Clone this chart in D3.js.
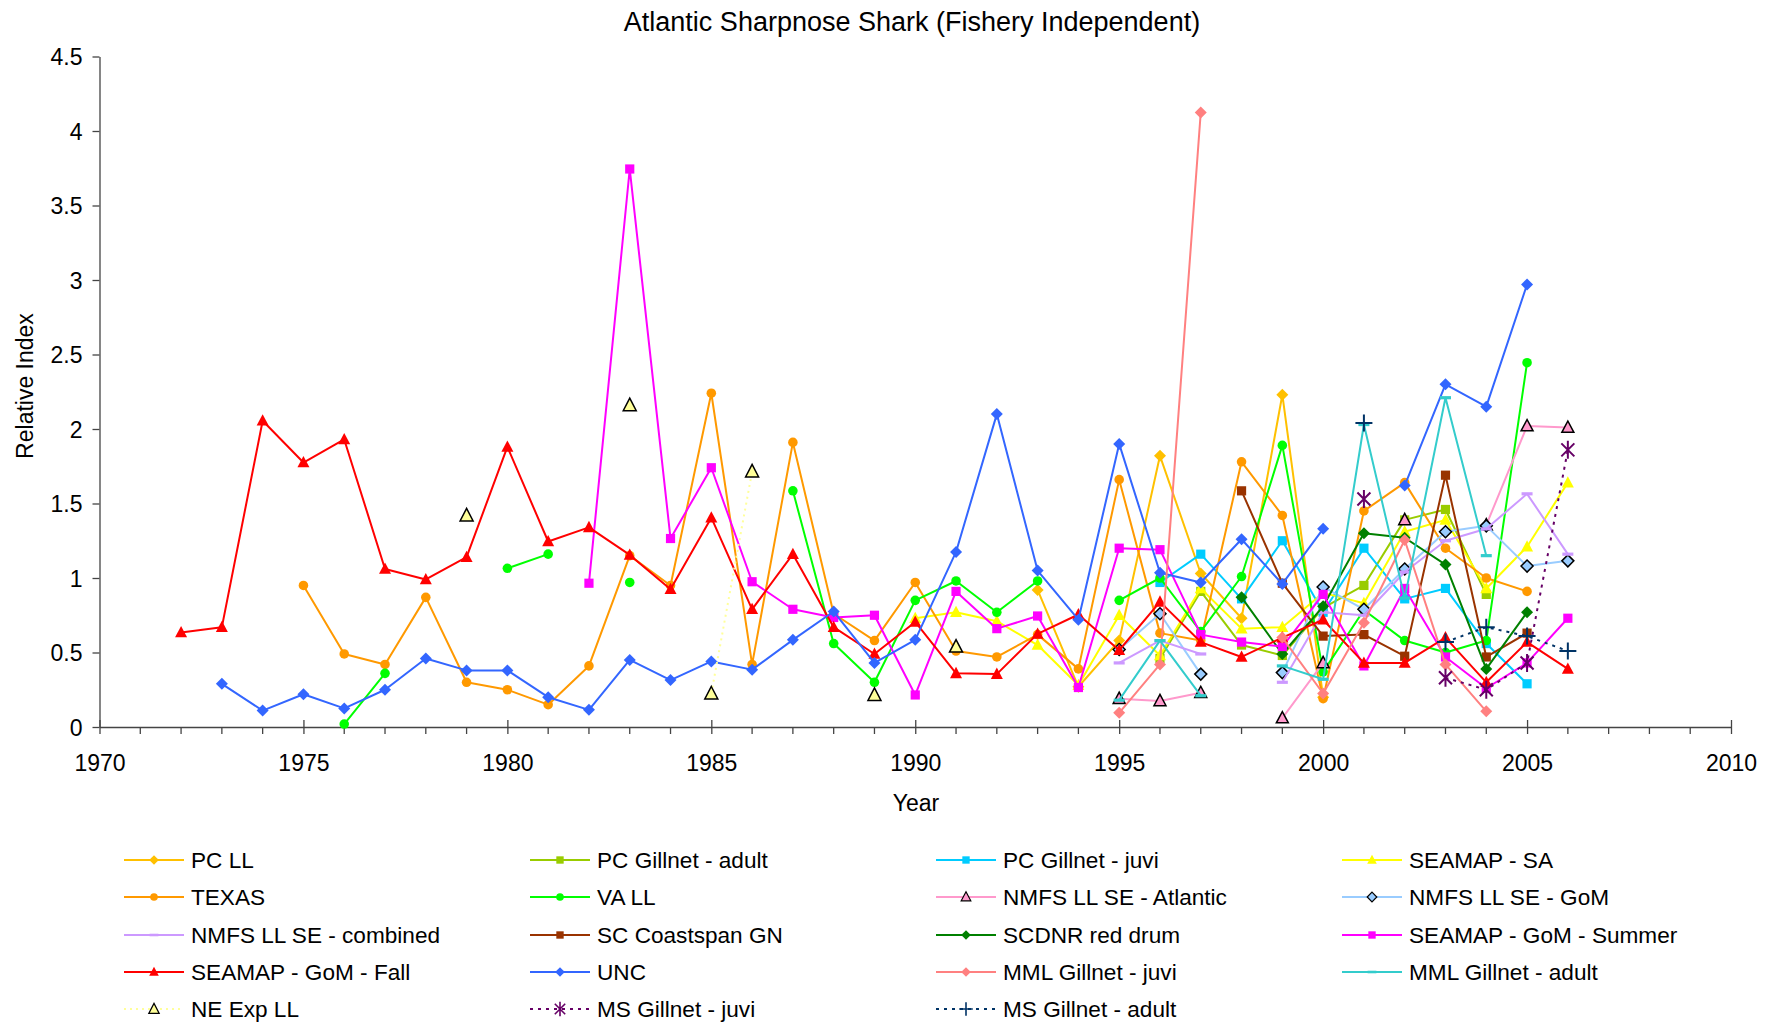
<!DOCTYPE html>
<html><head><meta charset="utf-8">
<script src="https://cdn.jsdelivr.net/npm/d3@7"></script>
<style>
body{margin:0;background:#fff}
text{font-family:"Liberation Sans",Arial,Helvetica,sans-serif;fill:#000}
</style>
</head><body>
<svg id="chart" width="1773" height="1024"></svg>
<script>
// ---------------- DATA ----------------
const xTicks = [1970,1975,1980,1985,1990,1995,2000,2005,2010];
const yTicks = [0,0.5,1,1.5,2,2.5,3,3.5,4,4.5];

const pcLLYears = [1993,1994,1995,1996,1997,1998,1999,2000];
const pcLLValues = [0.92,0.27,0.58,1.82,1.03,0.73,2.23,0.20];

const pcGillAdultYears = [1996,1997,1998,1999,2000,2001,2002,2003,2004];
const pcGillAdultValues = [0.46,0.91,0.55,0.48,0.80,0.95,1.39,1.46,0.89];

const pcGillJuviYears = [1996,1997,1998,1999,2000,2001,2002,2003,2004,2005];
const pcGillJuviValues = [0.97,1.16,0.86,1.25,0.77,1.20,0.86,0.93,0.56,0.29];

const seamapSAYears = [1990,1991,1992,1993,1994,1995,1996,1997,1998,1999,2000,2001,2002,2003,2004,2005,2006];
const seamapSAValues = [0.73,0.77,0.71,0.55,0.28,0.75,0.48,0.93,0.66,0.67,0.90,0.83,1.31,1.39,0.93,1.21,1.64];

const texasYears = [1975,1976,1977,1978,1979,1980,1981,1982,1983,1984,1985,1986,1987,1988,1989,1990,1991,1992,1993,1994,1995,1996,1997,1998,1999,2000,2001,2002,2003,2004,2005];
const texasValues = [0.95,0.49,0.42,0.87,0.30,0.25,0.15,0.41,1.15,0.95,2.24,0.42,1.91,0.76,0.58,0.97,0.51,0.47,0.62,0.39,1.66,0.63,0.58,1.78,1.42,0.19,1.45,1.64,1.20,1.00,0.91];

const vaLLYears = [1976,1977,1978,1979,1980,1981,1982,1983,1984,1985,1986,1987,1988,1989,1990,1991,1992,1993,1994,1995,1996,1997,1998,1999,2000,2001,2002,2003,2004,2005];
const vaLLValues = [0.02,0.36,null,null,1.065,1.16,null,0.97,null,null,null,1.585,0.56,0.30,0.85,0.98,0.77,0.98,null,0.85,1.00,0.64,1.01,1.89,0.37,0.785,0.58,0.50,0.58,2.445];

const nmfsAtlYears = [1995,1996,1997,1998,1999,2000,2001,2002,2003,2004,2005,2006];
const nmfsAtlValues = [0.19,0.175,0.23,null,0.06,0.43,null,1.39,null,1.355,2.02,2.01];

const nmfsGomYears = [1995,1996,1997,1998,1999,2000,2001,2002,2003,2004,2005,2006];
const nmfsGomValues = [0.52,0.76,0.355,null,0.365,0.94,0.79,1.06,1.31,1.35,1.08,1.115];

const nmfsCombYears = [1995,1996,1997,1998,1999,2000,2001,2002,2003,2004,2005,2006];
const nmfsCombValues = [0.43,0.58,0.49,null,0.30,0.77,0.75,1.04,1.25,1.33,1.565,1.16];

const scCoastYears = [1998,1999,2000,2001,2002,2003,2004,2005];
const scCoastValues = [1.585,0.965,0.61,0.62,0.475,1.69,0.47,0.63];

const scdnrYears = [1998,1999,2000,2001,2002,2003,2004,2005];
const scdnrValues = [0.87,0.49,0.81,1.30,1.27,1.09,0.39,0.77];

const seamapSumYears = [1982,1983,1984,1985,1986,1987,1988,1989,1990,1991,1992,1993,1994,1995,1996,1997,1998,1999,2000,2001,2002,2003,2004,2005,2006];
const seamapSumValues = [0.965,3.745,1.265,1.74,0.975,0.79,0.735,0.75,0.215,0.91,0.66,0.745,0.265,1.20,1.19,0.62,0.57,0.54,0.89,0.41,0.93,0.47,0.26,0.43,0.73];

const seamapFallYears = [1972,1973,1974,1975,1976,1977,1978,1979,1980,1981,1982,1983,1984,1985,1986,1987,1988,1989,1990,1991,1992,1993,1994,1995,1996,1997,1998,1999,2000,2001,2002,2003,2004,2005,2006];
const seamapFallValues = [0.635,0.67,2.055,1.775,1.93,1.06,0.99,1.14,1.88,1.245,1.34,1.155,0.925,1.405,0.79,1.16,0.67,0.49,0.705,0.36,0.355,0.625,0.755,0.515,0.84,0.57,0.47,0.60,0.72,0.43,0.43,0.60,0.30,0.57,0.39];

const uncYears = [1973,1974,1975,1976,1977,1978,1979,1980,1981,1982,1983,1984,1985,1986,1987,1988,1989,1990,1991,1992,1993,1994,1995,1996,1997,1998,1999,2000,2001,2002,2003,2004,2005];
const uncValues = [0.29,0.11,0.22,0.125,0.25,0.46,0.38,0.38,0.20,0.115,0.45,0.315,0.44,0.385,0.585,0.775,0.43,0.585,1.175,2.10,1.05,0.72,1.90,1.035,0.97,1.26,0.96,1.33,null,1.62,2.30,2.15,2.97];

const mmlJuviYears = [1995,1996,1997,1998,1999,2000,2001,2002,2003,2004];
const mmlJuviValues = [0.095,0.42,4.125,null,0.60,0.225,0.70,1.255,0.42,0.105];

const mmlAdultYears = [1995,1996,1997,1998,1999,2000,2001,2002,2003,2004];
const mmlAdultValues = [0.18,0.58,0.21,null,0.41,0.32,2.03,0.865,2.21,1.15];

const neExpYears = [1979,1980,1981,1982,1983,1984,1985,1986,1987,1988,1989,1990,1991];
const neExpValues = [1.42,null,null,null,2.16,null,0.225,1.715,null,null,0.215,null,0.54];

const msJuviYears = [2001,2002,2003,2004,2005,2006];
const msJuviValues = [1.53,null,0.33,0.25,0.43,1.86];

const msAdultYears = [2001,2002,2003,2004,2005,2006];
const msAdultValues = [2.04,null,0.57,0.67,0.61,0.51];

// ---------------- SERIES TABLE (style options) ----------------
const series = [
  {name:"PC LL", years:pcLLYears, values:pcLLValues, color:"#FFC000", marker:"diamond"},
  {name:"PC Gillnet - adult", years:pcGillAdultYears, values:pcGillAdultValues, color:"#99CC00", marker:"square"},
  {name:"PC Gillnet - juvi", years:pcGillJuviYears, values:pcGillJuviValues, color:"#00CCFF", marker:"square"},
  {name:"SEAMAP - SA", years:seamapSAYears, values:seamapSAValues, color:"#FFFF00", marker:"triangle"},
  {name:"TEXAS", years:texasYears, values:texasValues, color:"#FF9900", marker:"circle"},
  {name:"VA LL", years:vaLLYears, values:vaLLValues, color:"#00FF00", marker:"circle"},
  {name:"NMFS LL SE - Atlantic", years:nmfsAtlYears, values:nmfsAtlValues, color:"#FF99CC", marker:"triangle", fill:"#FF99CC", stroke:"#000"},
  {name:"NMFS LL SE - GoM", years:nmfsGomYears, values:nmfsGomValues, color:"#99CCFF", marker:"diamond", fill:"#99CCFF", stroke:"#000"},
  {name:"NMFS LL SE - combined", years:nmfsCombYears, values:nmfsCombValues, color:"#CC99FF", marker:"dash"},
  {name:"SC Coastspan GN", years:scCoastYears, values:scCoastValues, color:"#993300", marker:"square"},
  {name:"SCDNR red drum", years:scdnrYears, values:scdnrValues, color:"#008000", marker:"diamond"},
  {name:"SEAMAP - GoM - Summer", years:seamapSumYears, values:seamapSumValues, color:"#FF00FF", marker:"square"},
  {name:"SEAMAP - GoM - Fall", years:seamapFallYears, values:seamapFallValues, color:"#FF0000", marker:"triangle"},
  {name:"UNC", years:uncYears, values:uncValues, color:"#3366FF", marker:"diamond"},
  {name:"MML Gillnet - juvi", years:mmlJuviYears, values:mmlJuviValues, color:"#FF8080", marker:"diamond"},
  {name:"MML Gillnet - adult", years:mmlAdultYears, values:mmlAdultValues, color:"#33CCCC", marker:"dash"},
  {name:"NE Exp LL", years:neExpYears, values:neExpValues, color:"#FFFF99", marker:"bigtriangle", fill:"#FFFF99", stroke:"#000", dash:"2,4"},
  {name:"MS Gillnet - juvi", years:msJuviYears, values:msJuviValues, color:"#660066", marker:"star", dash:"3,5"},
  {name:"MS Gillnet - adult", years:msAdultYears, values:msAdultValues, color:"#003366", marker:"plus", dash:"3,5"}
];

// ---------------- DRAW ----------------
const svg = d3.select("#chart");
const x = d3.scaleLinear().domain([1970,2010]).range([99.5,1731]);
const y = d3.scaleLinear().domain([0,4.5]).range([727,56.5]);

// title
svg.append("text").attr("x",912).attr("y",31).attr("text-anchor","middle")
  .style("font-size","27px").text("Atlantic Sharpnose Shark (Fishery Independent)");

// y axis
const yAxis = svg.append("g").attr("transform","translate(99.5,0)")
  .call(d3.axisLeft(y).tickValues(yTicks).tickSize(7).tickSizeOuter(0).tickPadding(10).tickFormat(d=>String(d)));
yAxis.selectAll("text").style("font-size","23px").attr("dy","0.36em");
yAxis.selectAll("line,path").attr("stroke","#444").attr("stroke-width",1.3);

// x axis
const xAxis = svg.append("g").attr("transform","translate(0,727)")
  .call(d3.axisBottom(x).tickValues(xTicks).tickSize(7).tickSizeOuter(0).tickPadding(21).tickFormat(d=>String(d)));
xAxis.selectAll("text").style("font-size","23px");
xAxis.selectAll(".tick line").attr("y1",-7);
xAxis.selectAll("line,path").attr("stroke","#444").attr("stroke-width",1.3);
// minor ticks each year
const minorYears = d3.range(1971,2010).filter(v=>v%5!==0);
svg.append("g").selectAll("line").data(minorYears).join("line")
  .attr("x1",d=>x(d)).attr("x2",d=>x(d)).attr("y1",727).attr("y2",734)
  .attr("stroke","#444").attr("stroke-width",1.3);

// axis titles
svg.append("text").attr("x",916).attr("y",811).attr("text-anchor","middle")
  .style("font-size","23px").text("Year");
svg.append("text").attr("transform","translate(33,386) rotate(-90)").attr("text-anchor","middle")
  .style("font-size","23px").text("Relative Index");

// marker generator
function markerPath(type){
  switch(type){
    case "diamond": return "M0,-6L6,0L0,6L-6,0Z";
    case "square": return "M-4.6,-4.6H4.6V4.6H-4.6Z";
    case "circle": return d3.symbol(d3.symbolCircle, 72)();
    case "triangle": return "M0,-6.5L6,4.8H-6Z";
    case "bigtriangle": return "M0,-7L6.5,5.5H-6.5Z";
    case "dash": return "M-5.5,-1.6H5.5V1.6H-5.5Z";
    case "star": return "M-6.5,-6.5L6.5,6.5M-6.5,6.5L6.5,-6.5M0,-9V9";
    case "plus": return "M-8.5,0H8.5M0,-8.5V8.5";
  }
}

const line = d3.line().defined(d=>d.v!=null).x(d=>x(d.yr)).y(d=>y(d.v));
const plot = svg.append("g");
series.forEach(s=>{
  const pts = s.years.map((yr,i)=>({yr, v:s.values[i]}));
  const g = plot.append("g");
  g.append("path").datum(pts).attr("d",line).attr("fill","none")
    .attr("stroke",s.color).attr("stroke-width",2)
    .attr("stroke-dasharray",s.dash||null).attr("stroke-linejoin","round");
  const open = (s.marker==="star"||s.marker==="plus");
  g.selectAll("path.m").data(pts.filter(d=>d.v!=null)).join("path").attr("class","m")
    .attr("transform",d=>`translate(${x(d.yr)},${y(d.v)})`)
    .attr("d",markerPath(s.marker))
    .attr("fill",open?"none":(s.fill||s.color))
    .attr("stroke",open?s.color:(s.stroke||"none"))
    .attr("stroke-width",open?2:(s.stroke?1.5:0));
});

// legend
const colX = [124,530,936,1342];
const rowY = [860,897,935,972,1009];
const leg = svg.append("g");
series.forEach((s,i)=>{
  const cx = colX[i%4], cy = rowY[Math.floor(i/4)];
  const g = leg.append("g").attr("transform",`translate(${cx},${cy})`);
  g.append("line").attr("x1",0).attr("x2",60).attr("y1",0).attr("y2",0)
    .attr("stroke",s.color).attr("stroke-width",2).attr("stroke-dasharray",s.dash||null);
  const open = (s.marker==="star"||s.marker==="plus");
  g.append("path").attr("transform","translate(30,0) scale(0.8)").attr("d",markerPath(s.marker))
    .attr("fill",open?"none":(s.fill||s.color))
    .attr("stroke",open?s.color:(s.stroke||"none"))
    .attr("stroke-width",open?2:(s.stroke?1.5:0));
  g.append("text").attr("x",67).attr("y",0).attr("dy","0.36em")
    .style("font-size","22.6px").text(s.name);
});
</script>
</body></html>
